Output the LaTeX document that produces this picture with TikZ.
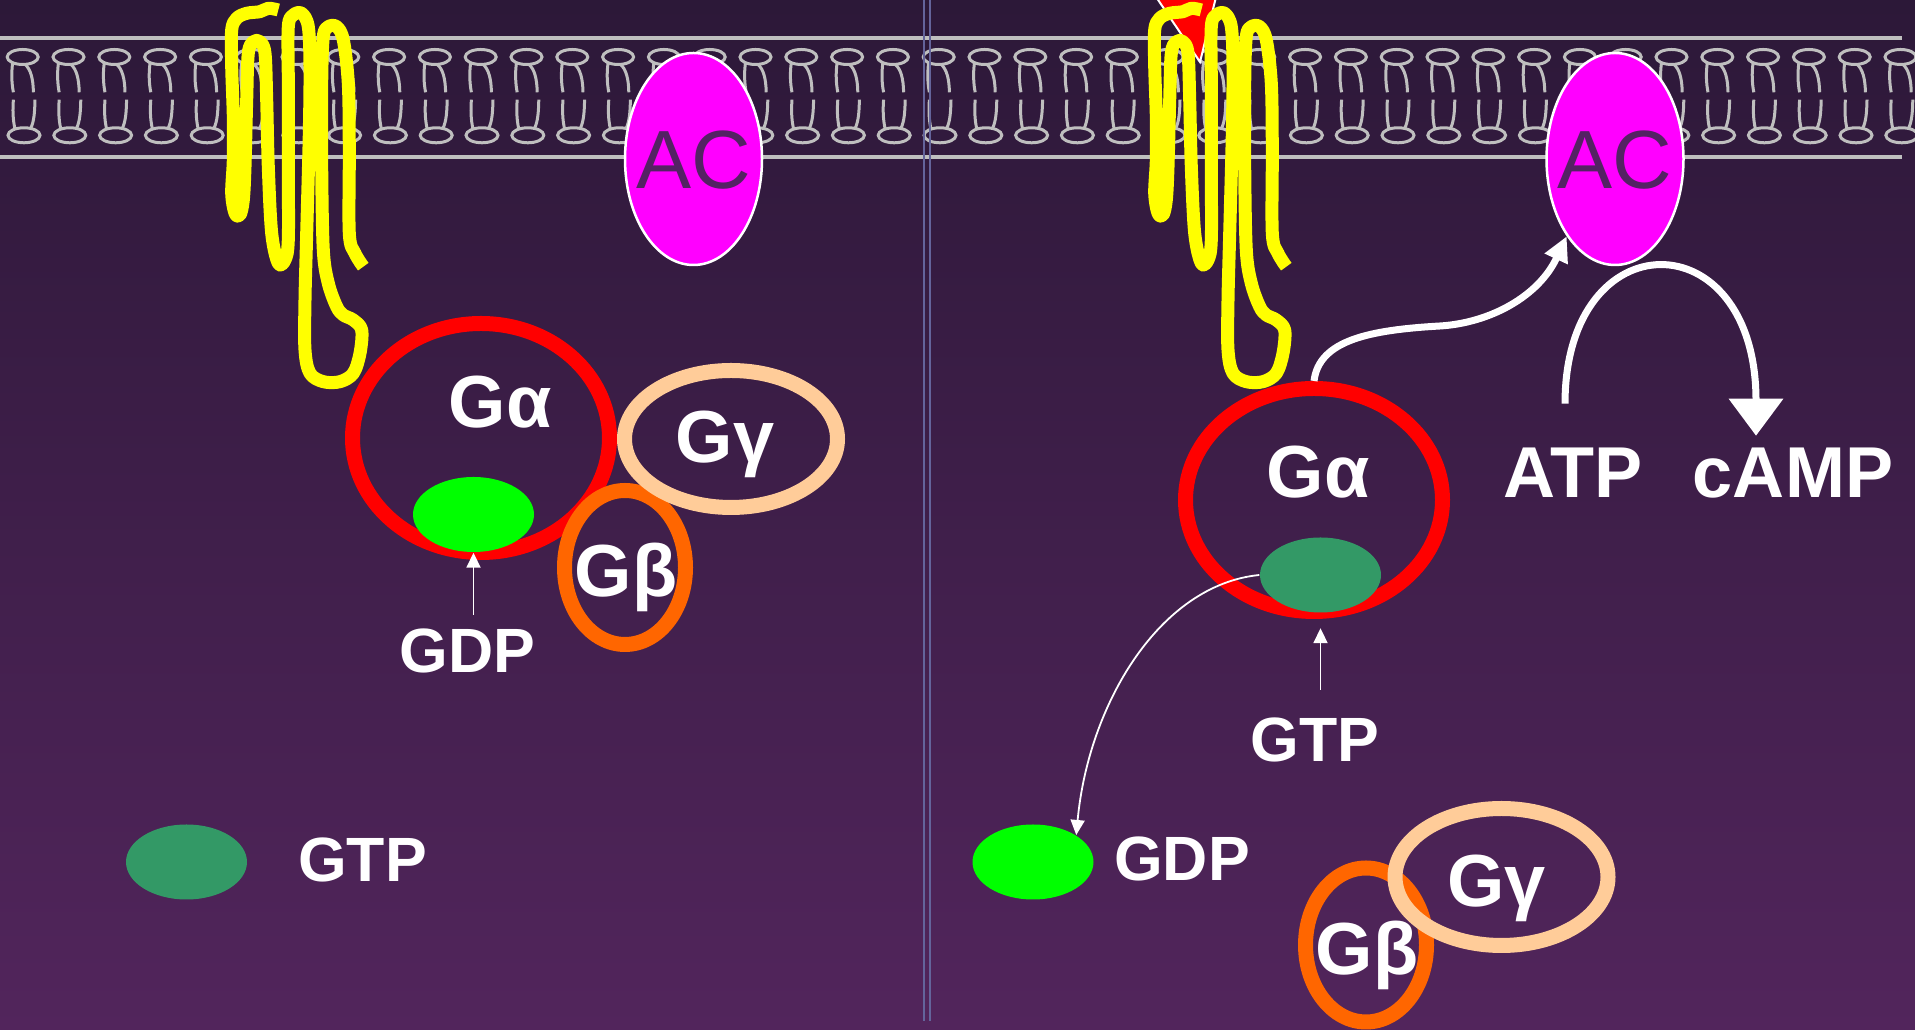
\documentclass[tikz,border=0pt]{standalone}
\usepackage{fontspec}
\setmainfont{Liberation Sans}
\usetikzlibrary{arrows.meta, shapes.geometric}
\definecolor{bgtop}{RGB}{44, 24, 56}
\definecolor{bgbot}{RGB}{82, 37, 92}
\definecolor{lipidcol}{RGB}{191, 191, 191}
\definecolor{dividercol}{RGB}{100, 100, 155}
\definecolor{rcptcol}{RGB}{255, 255, 0}
\definecolor{alphacol}{RGB}{255, 0, 0}
\definecolor{betacol}{RGB}{255, 102, 0}
\definecolor{gammacol}{RGB}{255, 204, 153}
\definecolor{gdpcol}{RGB}{0, 255, 0}
\definecolor{gtpcol}{RGB}{51, 153, 102}
\definecolor{accol}{RGB}{255, 0, 255}
\definecolor{actextcol}{RGB}{84, 34, 100}
\tikzset{
  membrane/.style  = {draw=lipidcol, line width=0.4mm},
  lipid/.style     = {draw=lipidcol, line width=0.3mm},
  divider/.style   = {draw=dividercol, line width=0.25mm},
  receptor/.style  = {draw=rcptcol, line width=1.3mm, line join=round},
  % subunits are open rings, nucleotides are plain filled blobs
  subunit/.style   = {ellipse, draw, line width=1.5mm, inner sep=0pt},
  alpharing/.style = {subunit, draw=alphacol, minimum width=25.7mm,
                      minimum height=22.9mm},
  betaring/.style  = {subunit, draw=betacol, minimum width=12.1mm,
                      minimum height=15.4mm},
  gammaring/.style = {subunit, draw=gammacol, minimum width=21.3mm,
                      minimum height=13.7mm},
  nucl/.style      = {ellipse, inner sep=0pt, minimum width=12.1mm,
                      minimum height=7.5mm},
  gdpblob/.style   = {nucl, fill=gdpcol},
  gtpblob/.style   = {nucl, fill=gtpcol},
  cyclase/.style   = {ellipse, fill=accol, draw=white, line width=0.25mm,
                      inner sep=0pt, minimum width=13.7mm, minimum height=21.2mm},
  actext/.style    = {text=actextcol, font=\fontsize{23.5}{26}\selectfont,
                      inner sep=0pt, anchor=base},
  lbl/.style       = {text=white, font=\bfseries\fontsize{17.8}{20}\selectfont,
                      inner sep=0pt, anchor=base},
  sublbl/.style    = {lbl, font=\bfseries\fontsize{21}{24}\selectfont},
  prodlbl/.style   = {lbl, font=\bfseries\fontsize{20.5}{23}\selectfont},
  thinflow/.style  = {-{Triangle[length=1.5mm, width=1.4mm]}, draw=white,
                      line width=0.18mm},
  bigflow/.style   = {-{Triangle[length=2.5mm, width=2.4mm]}, draw=white,
                      line width=0.7mm},
  turnover/.style  = {-{Triangle[length=3.7mm, width=5.3mm]}, draw=white,
                      line width=0.7mm},
  gpcr/.pic = {
    \draw[receptor] plot[smooth, tension=0.55] coordinates {
      (278.3,1020) (268.3,1021.7) (260,1018.3) (246.7,1016.7) (236.7,1011.7)
      (231.7,1000) (231.7,963.3) (233.3,913.3) (233.3,870) (231.7,836.7)
      (235,816.7) (240,815) (243.3,830) (245,863.3) (246.7,930) (248.3,976.7)
      (253.3,988.3) (260,988.3) (265,976.7) (266.7,930) (268.3,863.3)
      (271.7,796.7) (278.3,766.7) (285,770) (288.3,790) (288.3,863.3)
      (288.3,946.7) (288.3,1003.3) (293.3,1015) (301.7,1016.7) (308.3,1003.3)
      (310,963.3) (309.3,896.7) (306.7,796.7) (305,730) (305,680) (310,656.7)
      (323.3,648.3) (340,648.3) (353.3,656.7) (360,676.7) (361.7,700)
      (353.3,710) (343.3,715) (336.7,723.3) (328.3,746.7) (323.3,780)
      (321.7,863.3) (321.7,946.7) (323.3,993.3) (328.3,1003.3) (336.7,1003.3)
      (343.3,990) (348.3,946.7) (349.3,880) (349.3,796.7) (355,776.7)
      (363.3,763.3)};
  },
}

\begin{document}
\begin{tikzpicture}[x=0.1mm, y=0.1mm]

  \useasboundingbox (0,0) rectangle (1915,1030);
  \shade[top color=bgtop, bottom color=bgbot] (0,0) rectangle (1915,1030);

  %% ---------------- bilayer ----------------
  \draw[membrane] (0,992) -- (1902,992);
  \draw[membrane] (0,873) -- (1902,873);
  \foreach \k in {0,...,41} {
    \pgfmathsetmacro{\lx}{22.7+45.8*\k}
    \begin{scope}[shift={(\lx,973)}]
      \draw[lipid] (0,0) ellipse [x radius=1.55mm, y radius=0.75mm];
      \draw[lipid] (-10,-5.7) .. controls (-11.5,-16) and (-11,-27) .. (-9.3,-35.3);
      \draw[lipid] (2.3,-7.4) .. controls (8,-12) and (10.5,-22) .. (10.7,-35.3);
      \draw[lipid] (-9.3,-42.7) .. controls (-10,-52) and (-10,-62) .. (-7.7,-72);
      \draw[lipid] (12.3,-42.7) .. controls (12,-55) and (11.5,-64) .. (8,-71.5);
      \draw[lipid] (1.3,-78.3) ellipse [x radius=1.6mm, y radius=0.75mm];
    \end{scope}
  }

  \draw[divider] (924,1030) -- (924,9);
  \draw[divider] (930,1030) -- (930,9);

  %% ---------------- adenylyl cyclase ----------------
  \node[cyclase] (acl) at (693.5,871) {};
  \node[actext] (acltxt) at ([yshift=-3mm]acl.center) {AC};
  \node[cyclase] (acr) at (1615,871) {};
  \node[actext] (acrtxt) at ([yshift=-3mm]acr.center) {AC};

  %% ---------------- receptors ----------------
  \fill[alphacol, draw=white, line width=0.2mm]
       (1148,1045) -- (1219,1045) -- (1200,968) -- cycle;
  \pic at (0,0) {gpcr};
  \pic at (923,0) {gpcr};

  %% ================ inactive: GDP bound ================
  \node[alpharing] (gal) at (481,592) {};
  \node[gdpblob] (gdpl) at (473.5,515.5) {};
  \node[betaring] (gbl) at (625,462.5) {};
  \node[gammaring] (ggl) at (731,591) {};
  \node[sublbl] (galtxt) at (500,602) {Gα};
  \node[sublbl] (gbltxt) at (626,433) {Gβ};
  \node[sublbl] (ggltxt) at (725,567) {Gγ};
  \node[lbl] (gdpltxt) at (467.5,357) {GDP};
  \draw[thinflow, shorten <=1.4mm] (gdpltxt.north -| gdpl.south) -- (gdpl.south);

  \node[gtpblob] (gtpl) at (186.5,168) {};
  \node[lbl] (gtpltxt) at (362.5,148) {GTP};

  %% ================ active: GTP bound ================
  \node[alpharing, minimum height=22.3mm] (gar) at (1314,530) {};
  \node[gtpblob] (gtpr) at (1320.5,455) {};
  \node[sublbl] (gartxt) at (1318,532) {Gα};
  \node[lbl] (gtprtxt) at (1315,268) {GTP};
  \draw[thinflow, shorten <=2.8mm, shorten >=1.5mm]
       (gtprtxt.north -| gtpr.south) -- (gtpr.south);

  \node[gdpblob] (gdpr) at (1033,168) {};
  \node[lbl] (gdprtxt) at (1182,149) {GDP};
  \draw[thinflow] (gtpr.west) .. controls +(-10mm,-1mm) and +(1.2mm,13mm) .. (gdpr.32);

  \node[betaring] (gbr) at (1366,85) {};
  \node[gammaring] (ggr) at (1501.5,153) {};
  \node[sublbl] (gbrtxt) at (1367,55) {Gβ};
  \node[sublbl] (ggrtxt) at (1496.5,123) {Gγ};

  % G alpha switches the cyclase on
  \draw[bigflow] (gar.north) .. controls +(0.5mm,4.1mm) and +(-7mm,-0.4mm) .. (1440,704)
                 .. controls +(5mm,0.3mm) and +(-2.8mm,-6mm) .. (acr.238);

  \node[prodlbl] (atp) at (1573,532) {ATP};
  \node[prodlbl] (camp) at (1793,532) {cAMP};
  \draw[turnover] ([xshift=-0.8mm, yshift=4.4mm]atp.north)
       .. controls +(0,18.5mm) and +(0,21.7mm) .. ([xshift=-3.7mm, yshift=1.2mm]camp.north);

\end{tikzpicture}
\end{document}
